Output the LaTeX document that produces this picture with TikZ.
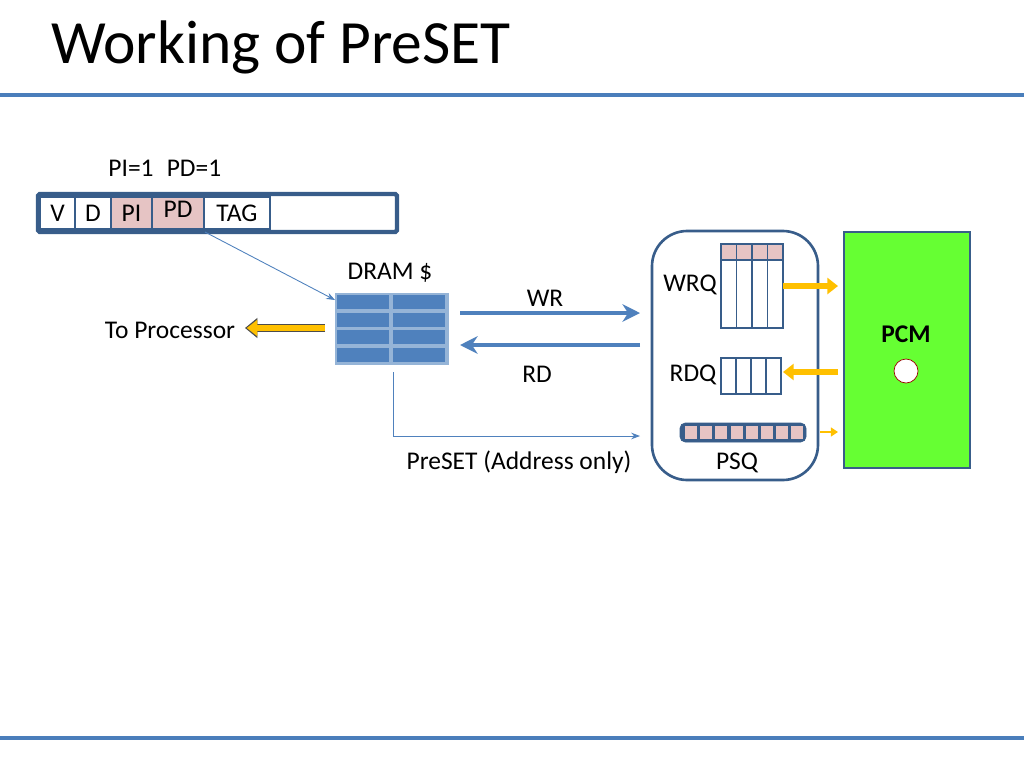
\documentclass[tikz,border=0pt]{standalone}
\usepackage{fontspec}
\setmainfont{Carlito}
\usetikzlibrary{arrows.meta}
\definecolor{rule}{HTML}{4A7EBB}
\definecolor{frame}{HTML}{385D8A}
\definecolor{cellpink}{HTML}{E6C4C4}
\definecolor{dramblue}{HTML}{4F81BD}
\definecolor{pcmgreen}{HTML}{66FF33}
\definecolor{arrowyel}{HTML}{FFC000}
\begin{document}
\begin{tikzpicture}[x=0.02cm, y=-0.02cm,
            every node/.style={font=\fontsize{14.5}{16}\selectfont},
            cell/.style={draw=frame, line width=1.2pt, fill=white},
            pink cell/.style={cell, fill=cellpink},
            thin arrow/.style={draw=dramblue, line width=0.5pt, -{Stealth[length=5pt]}},
            bus arrow/.style={draw=dramblue, line width=2pt, -{Stealth[length=10pt, width=10pt]}},
            yel arrow/.style={draw=arrowyel, line width=3pt, -{Triangle[length=6pt, width=9pt]}}]
            \useasboundingbox (0,0) rectangle (1024,768);
            \node[anchor=base west, font=\fontsize{35}{40}\selectfont] (title) at (45,63) {Working of PreSET};
            \draw[rule, line width=1.8pt] (0,95) -- (1024,95);
            \draw[rule, line width=1.8pt] (0,738) -- (1024,738);
            % tag entry
            \node (pione) at (131,168) {PI=1};
            \node (pdone) at (194,168) {PD=1};
            \draw[frame, line width=2.5pt, rounded corners=1pt] (38,194) rectangle (397,232);
            \draw[cell] (40,197) rectangle (75,229) node[midway] (v) {V};
            \draw[cell] (75,197) rectangle (111,229) node[midway] (d) {D};
            \draw[pink cell] (111,197) rectangle (152,229) node[midway] (pi) {PI};
            \draw[pink cell] (152,197) rectangle (204,229) node[midway, yshift=2pt] (pd) {PD};
            \draw[cell] (204,197) rectangle (270,229) node[midway] (tag) {TAG};
            \coordinate (tagfoot) at (205,232);
            % DRAM cache
            \node (dramlbl) at (390,273) {DRAM \$};
            \fill[dramblue!60] (335,293) rectangle (449,365);
            \foreach \r in {0,...,3} {
              \foreach \c in {0,1} {
                \fill[dramblue] (337+\c*56,295+\r*17.5) rectangle (389+\c*56,309+\r*17.5);
              }
            }
            \coordinate (dram) at (335,300);
            \coordinate (dramw) at (325,328);
            \coordinate (dramb) at (393,372);
            \draw[thin arrow] (tagfoot) -- (dram);
            \node (proc) at (170,330) {To Processor};
            \coordinate (procend) at (245,328);
            \draw[black!70, line width=4.4pt, -{Triangle[length=7pt, width=11pt]}] (dramw) -- (procend);
            \draw[yel arrow] (dramw) -- ([xshift=1]procend);
            % buses
            \coordinate (wra) at (460,313);
            \coordinate (wrb) at (640,313);
            \coordinate (rda) at (640,345);
            \coordinate (rdb) at (460,345);
            \draw[bus arrow] (wra) -- (wrb);
            \draw[bus arrow] (rda) -- (rdb);
            \node (wr) at (545,298) {WR};
            \node (rd) at (537,374) {RD};
            \coordinate (psend) at (640,436);
            \draw[thin arrow] (dramb) |- (psend);
            \node (psl) at (519,462) {PreSET (Address only)};
            % memory controller
            \draw[frame, line width=1.5pt, rounded corners=20pt] (652,231) rectangle (818,480);
            \foreach \i in {0,...,3} {
              \fill[white] (721+\i*15.5,260) rectangle (736.5+\i*15.5,328);
              \fill[cellpink] (721+\i*15.5,244) rectangle (736.5+\i*15.5,260);
            }
            \foreach \i in {0,...,3} {
              \draw[frame, line width=1pt] (721+\i*15.5,244) rectangle (736.5+\i*15.5,328);
              \draw[frame, line width=1pt] (721+\i*15,358) rectangle (736+\i*15,394);
            }
            \draw[frame, line width=1pt] (721,260) -- (783,260);
            \node (wrq) at (690,285) {WRQ};
            \node (rdq) at (693,375) {RDQ};
            \draw[frame, fill=frame, rounded corners=3pt] (680,423) rectangle (806,442);
            \foreach \i in {0,...,7} {
              \fill[cellpink] (685+\i*15.2,426) rectangle (697+\i*15.2,439);
            }
            \node (psq) at (737,463) {PSQ};
            % PCM
            \node[draw=frame, line width=1.2pt, fill=pcmgreen, minimum width=126*0.02cm, minimum height=236*0.02cm, anchor=north west] (pcm) at (843,231) {};
            \node[font=\fontsize{14.5}{16}\selectfont\bfseries] (pcmlbl) at (906,334) {PCM};
            \node[circle, draw=red!60!black, line width=0.4pt, fill=white, minimum size=24*0.02cm, inner sep=0pt] (hole) at (906,371) {};
            \draw[yel arrow] (783,286) -- (838,286);
            \draw[yel arrow] (838,372) -- (783,372);
            \draw[draw=arrowyel, line width=1.5pt, -{Triangle[length=4pt, width=5pt]}] (820,432) -- (838,432);
        \end{tikzpicture}
\end{document}
